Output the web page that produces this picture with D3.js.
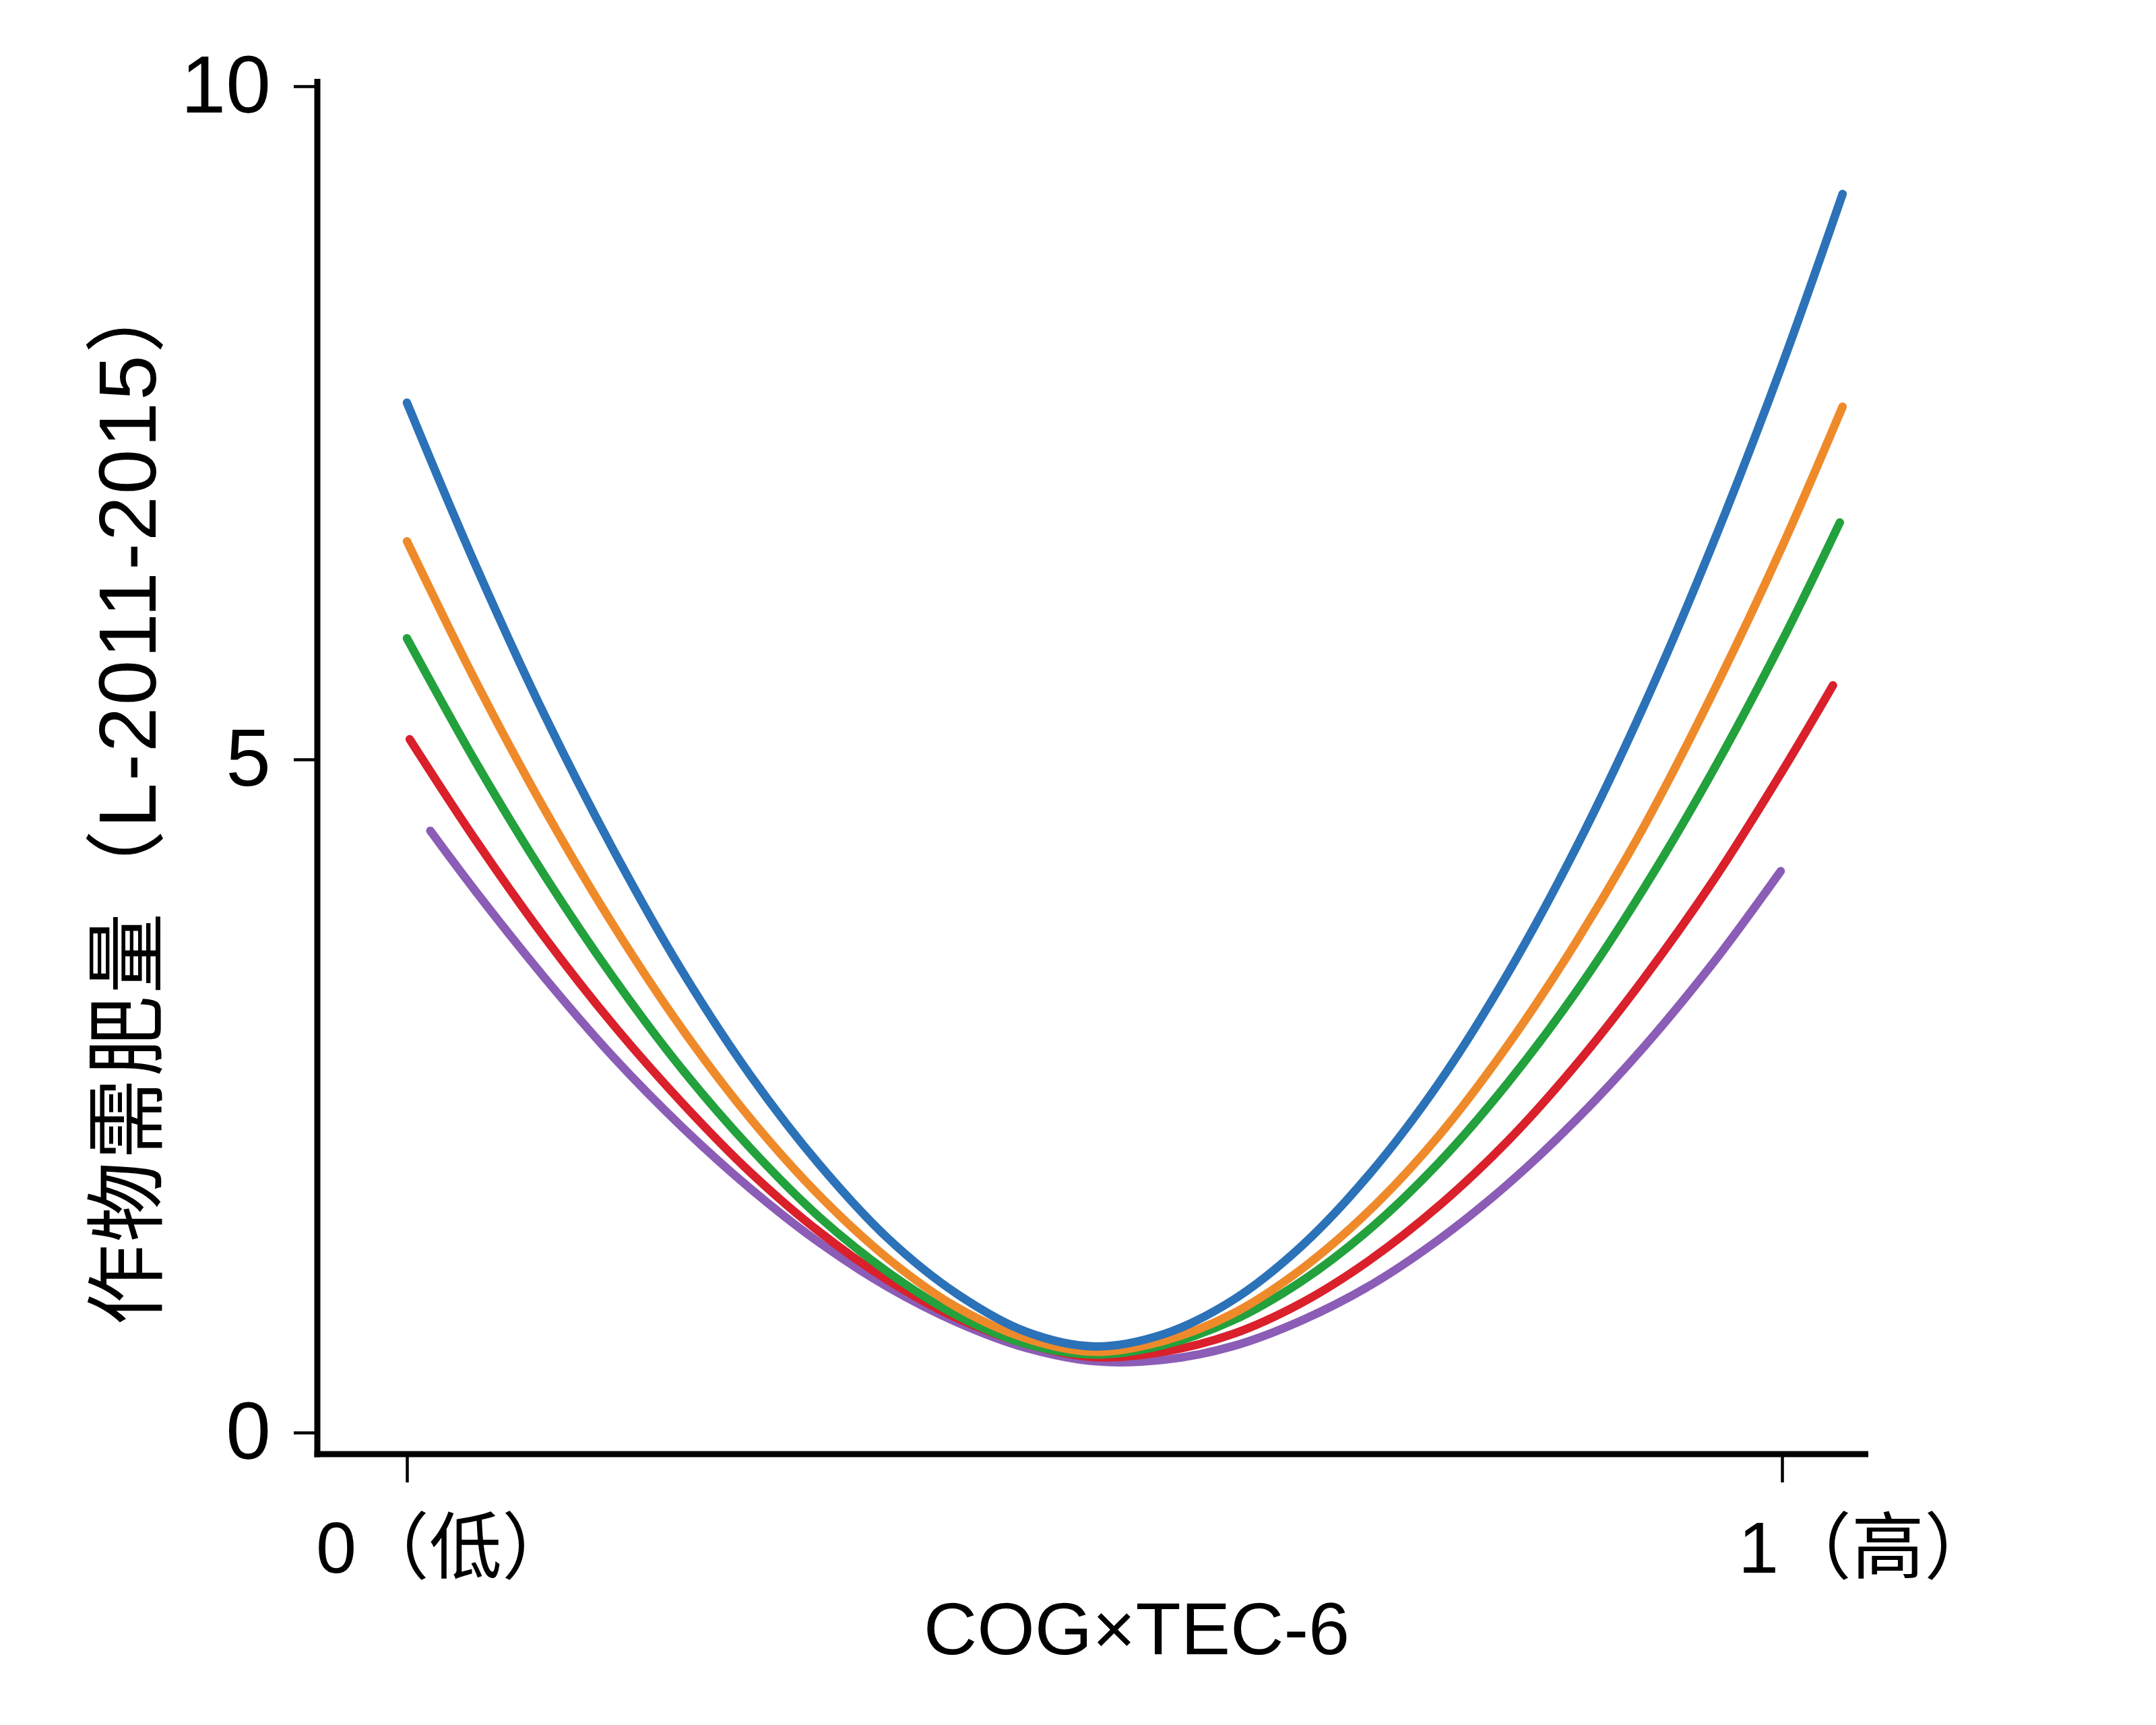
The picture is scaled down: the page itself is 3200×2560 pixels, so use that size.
<!DOCTYPE html>
<html>
<head>
<meta charset="utf-8">
<script src="https://cdn.jsdelivr.net/npm/d3@7"></script>
<style>
  html, body { margin: 0; padding: 0; background: #ffffff; }
  svg { display: block; }
</style>
</head>
<body>
<svg id="chart" width="3200" height="2560"></svg>
<script>
// ---- data ----
const yTicks = [0, 5, 10];
const xTicks = [0, 1];
const xTickLabels = ["0（低）", "1（高）"];
const xTitle = "COG×TEC-6";
const yTitle = "作物需肥量（L-2011-2015）";

const seriesNames = ["blue", "orange", "green", "red", "purple"];
const seriesColors = ["#2b72b8", "#ef8a2a", "#22a13c", "#d9202b", "#8b5db6"];

const xBlue   = [0, .05, .1, .15, .2, .25, .3, .35, .4, .45, .5, .55, .6, .65, .7, .75, .8, .85, .9, .95, 1.0, 1.044];
const yBlue   = [7.65, 6.44, 5.33, 4.33, 3.43, 2.65, 1.99, 1.44, 1.03, 0.75, 0.64, 0.73, 0.98, 1.38, 1.92, 2.59, 3.40, 4.34, 5.41, 6.61, 7.93, 9.20];
const xOrange = [0, .05, .1, .15, .2, .25, .3, .35, .4, .45, .5, .55, .6, .65, .7, .75, .8, .85, .9, .95, 1.0, 1.044];
const yOrange = [6.62, 5.58, 4.63, 3.77, 3.00, 2.33, 1.76, 1.29, 0.93, 0.70, 0.60, 0.68, 0.88, 1.21, 1.65, 2.20, 2.87, 3.64, 4.51, 5.50, 6.58, 7.62];
const xGreen  = [0, .05, .1, .15, .2, .25, .3, .35, .4, .45, .5, .55, .6, .65, .7, .75, .8, .85, .9, .95, 1.0, 1.042];
const yGreen  = [5.90, 4.98, 4.14, 3.38, 2.70, 2.11, 1.60, 1.19, 0.87, 0.66, 0.58, 0.65, 0.83, 1.12, 1.51, 2.00, 2.59, 3.27, 4.05, 4.92, 5.88, 6.76];
const xRed    = [0.002, .05, .1, .15, .2, .25, .3, .35, .4, .45, .5, .55, .6, .65, .7, .75, .8, .85, .9, .95, 1.0, 1.037];
const yRed    = [5.15, 4.40, 3.68, 3.03, 2.45, 1.93, 1.49, 1.13, 0.85, 0.66, 0.56, 0.60, 0.73, 0.96, 1.28, 1.68, 2.16, 2.73, 3.38, 4.10, 4.91, 5.55];
const xPurple = [0.017, .05, .1, .15, .2, .25, .3, .35, .4, .45, .5, .55, .6, .65, .7, .75, .8, .85, .9, .95, 0.999];
const yPurple = [4.47, 4.02, 3.38, 2.79, 2.27, 1.81, 1.41, 1.08, 0.82, 0.63, 0.53, 0.54, 0.64, 0.83, 1.09, 1.43, 1.84, 2.32, 2.87, 3.49, 4.17];

const seriesX = [xBlue, xOrange, xGreen, xRed, xPurple];
const seriesY = [yBlue, yOrange, yGreen, yRed, yPurple];

// ---- layout ----
const svg = d3.select("#chart");
const FONT = "'Liberation Sans', Arial, 'Noto Sans CJK SC', sans-serif";

const x = d3.scaleLinear().domain([0, 1]).range([604, 2645]);
const y = d3.scaleLinear().domain([0, 10]).range([2126, 128]);

const axisX0 = 471;   // y-axis line position
const axisY0 = 2158;  // x-axis line position

// y axis ticks + labels
const gy = svg.append("g")
  .attr("transform", `translate(${axisX0},0)`)
  .call(d3.axisLeft(y).tickValues(yTicks).tickSize(35).tickPadding(34).tickFormat(d3.format("d")));
gy.select(".domain").remove();
gy.selectAll(".tick line").attr("stroke", "#000").attr("stroke-width", 4.5);
gy.selectAll(".tick text")
  .attr("font-family", FONT).attr("font-size", 120).attr("fill", "#000");

// x axis ticks
const gx = svg.append("g")
  .attr("transform", `translate(0,${axisY0})`)
  .call(d3.axisBottom(x).tickValues(xTicks).tickSize(42).tickFormat(""));
gx.select(".domain").remove();
gx.selectAll(".tick line").attr("stroke", "#000").attr("stroke-width", 4.5);

// x tick labels (start-anchored, shifted left of the tick as in reference)
const xLabelShift = [-135, -65];
svg.append("g").selectAll("text")
  .data(xTicks)
  .join("text")
  .attr("x", (d, i) => x(d) + xLabelShift[i])
  .attr("y", 2334)
  .attr("font-family", FONT)
  .attr("font-size", 108)
  .attr("fill", "#000")
  .text((d, i) => xTickLabels[i]);

// axis lines
svg.append("line")
  .attr("x1", axisX0).attr("x2", axisX0)
  .attr("y1", y(10) - 11).attr("y2", axisY0 + 4.5)
  .attr("stroke", "#000").attr("stroke-width", 9);
svg.append("line")
  .attr("x1", axisX0 - 4.5).attr("x2", 2773)
  .attr("y1", axisY0).attr("y2", axisY0)
  .attr("stroke", "#000").attr("stroke-width", 9);

// curves
const line = d3.line()
  .x(d => x(d[0]))
  .y(d => y(d[1]))
  .curve(d3.curveCatmullRom.alpha(0.5));

const drawOrder = [4, 3, 2, 1, 0];
svg.append("g").selectAll("path")
  .data(drawOrder)
  .join("path")
  .attr("d", i => line(seriesX[i].map((xv, j) => [xv, seriesY[i][j]])))
  .attr("fill", "none")
  .attr("stroke", i => seriesColors[i])
  .attr("stroke-width", 12.5)
  .attr("stroke-linecap", "round")
  .attr("stroke-linejoin", "round");

// axis titles
svg.append("text")
  .attr("x", 1687).attr("y", 2455)
  .attr("text-anchor", "middle")
  .attr("font-family", FONT).attr("font-size", 110).attr("fill", "#000")
  .text(xTitle);

svg.append("text")
  .attr("transform", "translate(189,1184) rotate(-90)")
  .attr("text-anchor", "middle")
  .attr("dominant-baseline", "central")
  .attr("font-family", FONT).attr("font-size", 120)
  .attr("letter-spacing", 3)
  .attr("fill", "#000")
  .text(yTitle);
</script>
</body>
</html>
